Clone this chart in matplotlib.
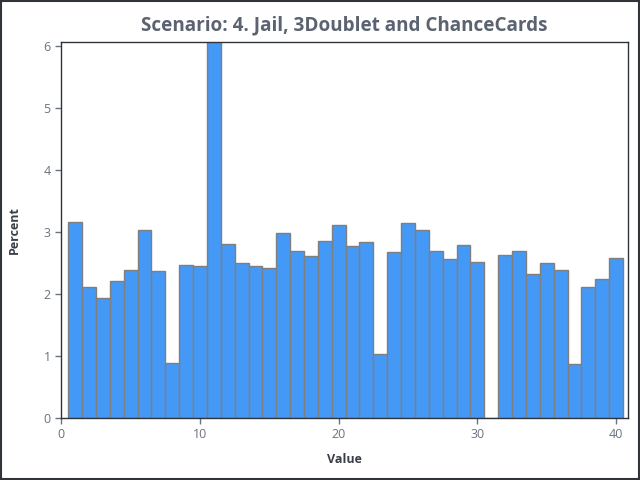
import matplotlib
matplotlib.use("Agg")
import matplotlib.pyplot as plt
from matplotlib.patches import Rectangle

# square numbers on the board, 1..40
squares = list(range(1, 41))
percent = [3.16, 2.11, 1.94, 2.21, 2.39, 3.03, 2.38, 0.89, 2.47, 2.45,
           6.30, 2.81, 2.51, 2.45, 2.42, 2.98, 2.70, 2.62, 2.86, 3.12,
           2.78, 2.84, 1.03, 2.68, 3.15, 3.03, 2.70, 2.56, 2.80, 2.52,
           0.00, 2.63, 2.70, 2.32, 2.51, 2.39, 0.88, 2.12, 2.25, 2.59]
xticks = [0, 10, 20, 30, 40]
yticks = [0, 1, 2, 3, 4, 5, 6]

plt.rcParams['font.family'] = ['Open Sans', 'DejaVu Sans']

fig = plt.figure(figsize=(6.4, 4.8), dpi=100)
ax = fig.add_axes([0.0953, 0.129, 0.886, 0.7835])

ax.bar(squares, percent, width=1.0, color='#4499f7', edgecolor='#7f7f7f', linewidth=1.0)

ax.set_xlim(-0.02, 40.86)
ax.set_ylim(0, 6.07)
ax.set_xticks(xticks)
ax.set_yticks(yticks)
ax.tick_params(colors='#6b7280', labelsize=9, length=4, width=1)
for side in ['left', 'right', 'top', 'bottom']:
    ax.spines[side].set_color('#2f343b')
    ax.spines[side].set_linewidth(1.0)

ax.set_title('Scenario: 4. Jail, 3Doublet and ChanceCards', fontsize=13.6, fontweight='bold',
             color='#5b6270', pad=8)
ax.set_xlabel('Value', fontsize=9, fontweight='bold', color='#3a3f47', labelpad=8)
ax.set_ylabel('Percent', fontsize=9, fontweight='bold', color='#3a3f47', labelpad=16)

# dark frame round the whole figure
fig.patches.append(Rectangle((0.001, 0.002), 0.997, 0.996, transform=fig.transFigure,
                             fill=False, edgecolor='#2f343b', linewidth=1.5))

plt.savefig('out.png')
